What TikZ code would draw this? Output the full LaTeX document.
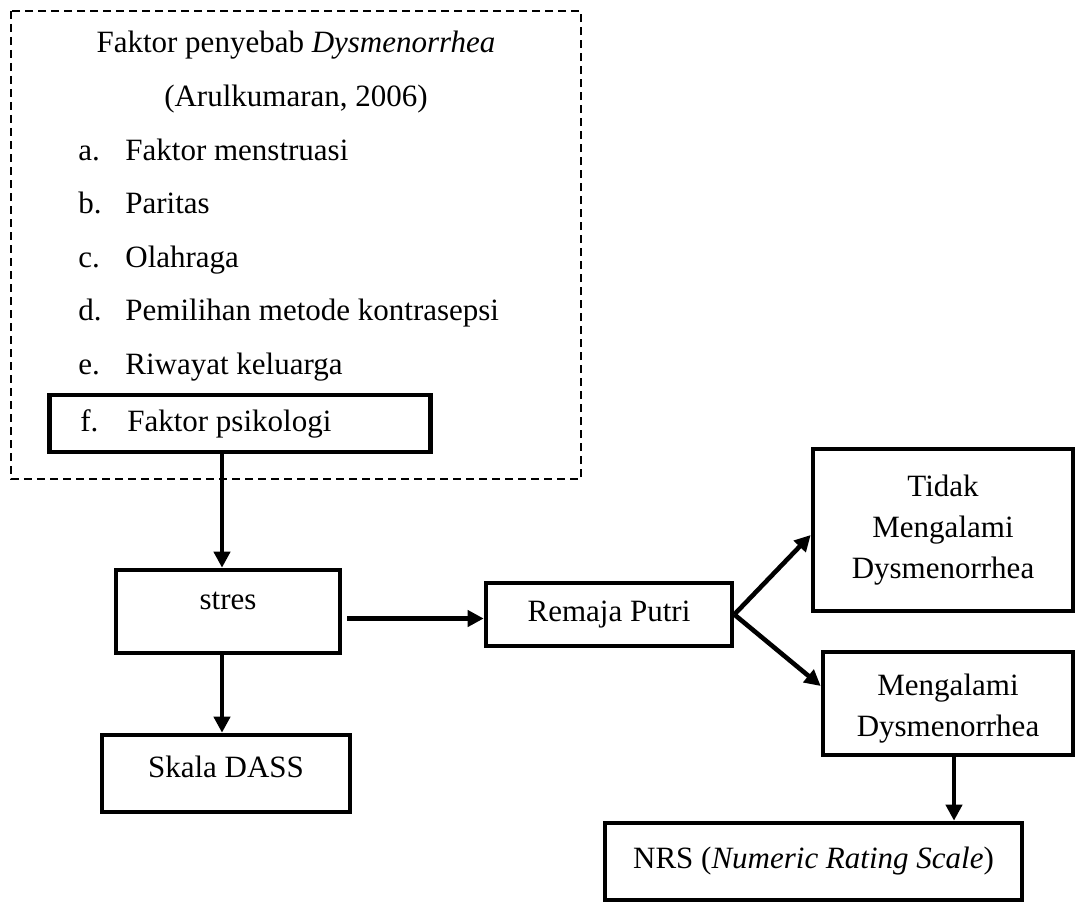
\documentclass[tikz,border=0pt]{standalone}
\usepackage{fontspec}
\setmainfont{Liberation Serif}
\usetikzlibrary{arrows.meta,calc}
\newcommand{\butir}[2]{\makebox[23.5pt][l]{#1}#2}
\tikzset{
  kotak/.style={draw, line width=2.3pt, align=center, inner sep=2pt},
  panah/.style={-{Triangle[length=8pt,width=8pt]}, line width=2.3pt},
  putus/.style={line width=1pt, dash pattern=on 4pt off 2.5pt},
}
\begin{document}
\begin{tikzpicture}[x=0.5pt, y=-0.5pt, font=\fontsize{15.5}{20.5}\selectfont]
            \useasboundingbox (0,0) rectangle (1075,904);
            \draw[putus] (11,11) rectangle (581,479);
            \node[anchor=base] (judul) at (296,52.5) {Faktor penyebab \textit{Dysmenorrhea}};
            \node[anchor=base] (sumber) at (296,106.5) {(Arulkumaran, 2006)};
            \foreach \lbl/\isi [count=\i from 0] in {a./Faktor menstruasi, b./Paritas, c./Olahraga, d./Pemilihan metode kontrasepsi, e./Riwayat keluarga}
              \node[anchor=base west, inner sep=0pt] (butir\i) at (78,{160+53.5*\i}) {\butir{\lbl}{\isi}};
            \node[kotak, anchor=west, text width=159.5pt, inner xsep=15.5pt, align=flush left, minimum height=28.5pt] (psikologi) at (47,423.5) {\butir{f.}{Faktor psikologi}};
            \node[kotak, minimum width=112pt, minimum height=41.5pt, text depth=11pt] (stres) at (228,611.5) {stres};
            \node[kotak, minimum width=124pt, minimum height=38.5pt, text depth=6.5pt] (dass) at (226,773.5) {Skala DASS};
            \node[kotak, minimum width=123pt, minimum height=31.5pt] (remaja) at (609,614.5) {Remaja Putri};
            \node[kotak, minimum width=130pt, minimum height=81pt] (tidak) at (943,530) {Tidak\\Mengalami\\Dysmenorrhea};
            \node[kotak, minimum width=125pt, minimum height=51.5pt, text height=36pt] (alami) at (948,703.5) {Mengalami\\Dysmenorrhea};
            \node[kotak, minimum width=208.5pt, minimum height=38.5pt] (nrs) at (813.5,861.5) {NRS (\textit{Numeric Rating Scale})};
            \coordinate (sumbuA) at (222,0);
            \coordinate (sumbuB) at (954,0);
            \draw[panah] (psikologi.south -| sumbuA) -- (stres.north -| sumbuA);
            \draw[panah] (stres.south -| sumbuA) -- (dass.north -| sumbuA);
            \draw[panah] ($(stres.east |- remaja.west)+(5,4)$) -- ($(remaja.west)+(0,4)$);
            \draw[panah] (remaja.east) -- ($(tidak.west)+(0,5)$);
            \draw[panah] (remaja.east) -- ($(alami.west)+(0,-17.5)$);
            \draw[panah] (alami.south -| sumbuB) -- (nrs.north -| sumbuB);
          \end{tikzpicture}
\end{document}
